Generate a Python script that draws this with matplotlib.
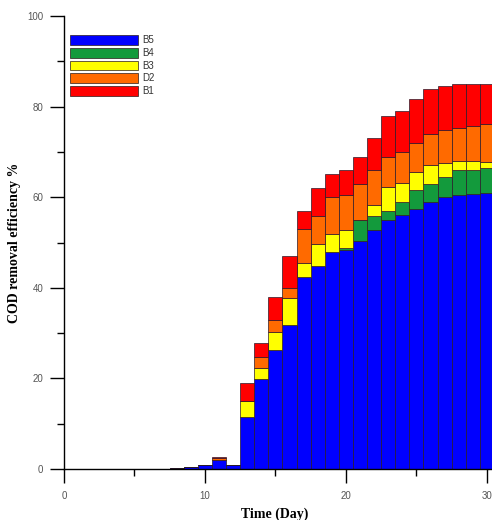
import numpy as np
import matplotlib
matplotlib.use('Agg')
import matplotlib.pyplot as plt
from matplotlib.patches import Patch

# Datos: eficiencia de remoción de DQO por día (cada serie apilada)
dias = [7, 8, 9, 10, 11, 12, 13, 14, 15, 16, 17, 18, 19, 20, 21, 22, 23, 24, 25, 26, 27, 28, 29, 30]
b5 = [0.1, 0.2, 0.5, 0.9, 2.0, 1.0, 11.5, 19.9, 26.2, 31.9, 42.4, 44.8, 48.0, 48.3, 50.4, 52.8, 55.0, 56.0, 57.5, 59.0, 60.1, 60.5, 60.7, 61.0]
b4 = [0, 0, 0, 0, 0, 0, 0, 0, 0, 0, 0, 0, 0, 0.6, 4.6, 3.1, 2.0, 3.0, 4.2, 4.0, 4.3, 5.5, 5.3, 5.4]
b3 = [0, 0, 0, 0, 0, 0, 3.6, 2.3, 4.1, 5.8, 3.1, 4.8, 3.9, 3.9, 0, 2.5, 5.3, 4.2, 3.8, 4.2, 3.1, 2.1, 2.1, 1.4]
d2 = [0, 0, 0, 0, 0.4, 0, 0, 2.6, 2.6, 2.2, 7.4, 6.3, 8.1, 7.6, 8.0, 7.6, 6.6, 6.8, 6.5, 6.8, 7.3, 7.3, 7.6, 8.4]
b1 = [0, 0, 0, 0, 0.2, 0, 3.9, 3.1, 5.0, 7.1, 4.1, 6.1, 5.1, 5.6, 5.9, 7.0, 9.0, 9.0, 9.8, 9.9, 9.7, 9.6, 9.3, 8.8]

series = [('B5', b5, '#0000ff'), ('B4', b4, '#139a3c'), ('B3', b3, '#ffff00'),
          ('D2', d2, '#ff6a00'), ('B1', b1, '#ff0000')]

fig = plt.figure(figsize=(4.92, 5.2), dpi=100)
# el eje se sale por la derecha (la imagen original está recortada)
ax = fig.add_axes([0.130, 0.098, 0.917, 0.871])

base = np.zeros(len(dias))
handles = []
for nombre, valores, color in series:
    valores = np.array(valores)
    ax.bar(dias, valores, width=1.0, bottom=base, color=color,
           edgecolor='#2a1a2a', linewidth=0.5)
    base = base + valores
    handles.append(Patch(facecolor=color, edgecolor='#2a1a1a', linewidth=0.5, label=nombre))

ax.set_xlim(0, 32)
ax.set_ylim(0, 100)
ax.set_xticks([0, 10, 20, 30])
ax.set_xticks([5, 15, 25], minor=True)
ax.set_yticks([0, 20, 40, 60, 80, 100])
ax.set_yticks([10, 30, 50, 70, 90], minor=True)

for lado in ['top', 'right']:
    ax.spines[lado].set_visible(False)
for lado in ['left', 'bottom']:
    ax.spines[lado].set_linewidth(1.0)

ax.tick_params(which='major', direction='out', length=10, width=1.0,
               labelsize=7, labelcolor='#555555')
ax.tick_params(which='minor', direction='out', length=5, width=1.0)
ax.tick_params(axis='y', pad=5)
ax.tick_params(axis='x', pad=6)
for t in ax.get_xticklabels() + ax.get_yticklabels():
    t.set_family('Liberation Sans')

ax.set_xlabel('Time (Day)', family='Liberation Serif', fontweight='bold', fontsize=10)
ax.set_ylabel('COD removal efficiency %', family='Liberation Serif', fontweight='bold', fontsize=10)
ax.xaxis.set_label_coords(0.466, -0.085)
ax.yaxis.set_label_coords(-0.095, 0.5)

ax.legend(handles=handles, loc='upper left', bbox_to_anchor=(0.013, 0.958),
          frameon=False, handlelength=7.0, handleheight=1.2,
          labelspacing=0.25, handletextpad=0.5, borderpad=0, borderaxespad=0,
          labelcolor='#333333', prop={'family': 'Liberation Sans', 'size': 7})

fig.savefig('out.png', dpi=100)
